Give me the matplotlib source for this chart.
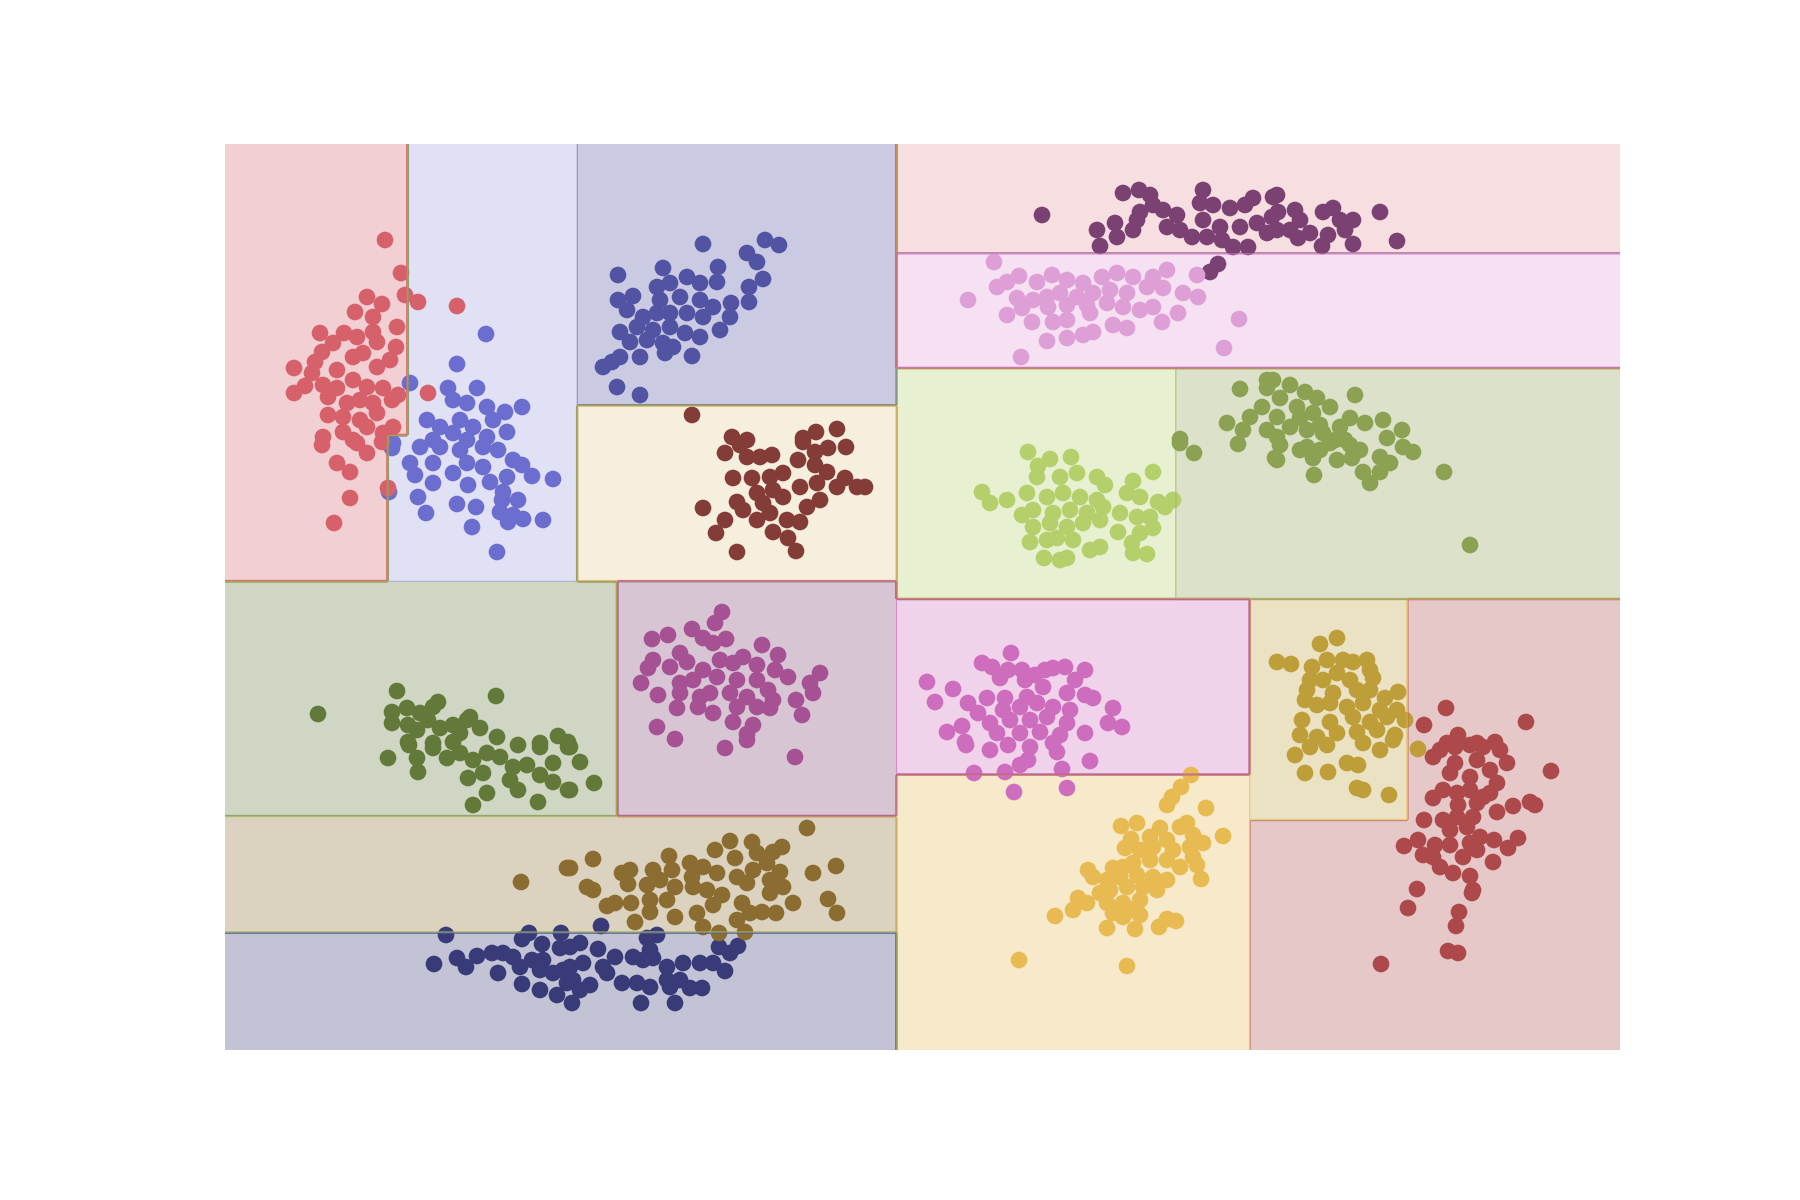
#!/usr/bin/env python3
import numpy as np
import matplotlib
matplotlib.use('Agg')
import matplotlib.pyplot as plt
from matplotlib.colors import ListedColormap

# point positions (pixel-like units, y grows downward)
pts_navy = [(446,935),(434,964),(457,958),(466,967),(477,956),(492,953),(503,953),(513,957),(498,973),(522,939),
            (529,933),(542,944),(561,933),(560,948),(570,947),(520,967),(532,960),(543,960),(540,970),(553,973),
            (563,970),(570,967),(522,984),(540,990),(557,995),(572,1003),(567,983),(601,926),(580,943),(598,949),
            (615,957),(583,963),(603,967),(607,973),(573,980),(590,985),(580,990),(647,938),(657,935),(650,950),
            (633,957),(643,960),(653,958),(667,967),(683,963),(700,963),(713,963),(725,971),(719,947),(738,946),
            (730,953),(622,983),(637,983),(650,987),(667,980),(680,980),(690,988),(702,988),(670,987),(641,1003),
            (675,1003)]
pts_indigo = [(703,244),(765,240),(779,245),(747,253),(757,262),(718,267),(663,268),(618,275),(717,282),(763,279),
              (749,287),(749,302),(731,303),(730,317),(720,330),(692,356),(633,296),(618,300),(657,287),(670,283),
              (687,277),(700,283),(660,300),(680,297),(700,300),(713,307),(627,310),(643,317),(657,313),(670,313),
              (687,313),(703,317),(620,332),(637,327),(653,330),(670,327),(685,333),(700,337),(630,342),(647,340),
              (663,343),(673,347),(620,357),(612,362),(603,367),(640,357),(665,353),(617,387),(640,395)]
pts_blue = [(486,334),(457,364),(410,383),(448,388),(477,388),(522,407),(505,412),(427,420),(440,427),(453,400),
            (467,403),(487,407),(460,420),(473,427),(493,420),(507,432),(453,433),(433,440),(467,440),(487,437),
            (393,443),(392,448),(420,447),(440,447),(460,450),(483,447),(498,450),(410,463),(433,463),(415,475),
            (453,473),(467,463),(483,467),(513,460),(522,465),(507,477),(532,476),(553,479),(433,483),(468,485),
            (490,482),(503,492),(389,492),(418,497),(457,504),(476,507),(502,500),(518,500),(426,513),(500,512),
            (513,515),(523,519),(543,520),(508,522),(472,527),(497,552)]
pts_darkgreen = [(318,714),(397,691),(496,696),(392,712),(392,723),(407,708),(408,725),(420,713),(433,707),(438,702),
                 (428,720),(417,730),(440,728),(453,725),(467,720),(470,717),(480,728),(460,733),(497,737),(518,745),
                 (540,743),(558,736),(568,742),(408,742),(433,743),(453,742),(388,758),(409,745),(417,758),(418,772),
                 (433,748),(447,758),(460,753),(473,760),(487,753),(500,757),(468,778),(483,773),(487,793),(510,780),
                 (518,790),(513,767),(527,765),(540,747),(540,775),(553,763),(553,782),(568,790),(568,747),(538,802),
                 (473,805),(570,747),(580,762),(594,783),(570,790)]
pts_olive = [(1240,389),(1267,380),(1267,388),(1227,423),(1180,439),(1262,407),(1250,417),(1243,430),(1267,430),
             (1273,380),(1290,385),(1305,392),(1317,398),(1330,407),(1355,395),(1350,418),(1365,423),(1383,420),
             (1402,430),(1280,398),(1297,407),(1313,413),(1277,417),(1290,427),(1307,430),(1323,433),(1340,427),
             (1387,438),(1277,437),(1280,445),(1277,460),(1307,447),(1313,458),(1337,460),(1352,458),(1380,457),
             (1390,463),(1413,452),(1403,447),(1314,475),(1363,472),(1370,483),(1380,472),(1444,472),(1470,545),
             (1330,443),(1350,445),(1180,443),(1194,453),(1238,444),(1275,458),(1300,418),(1320,425),(1335,440),
             (1300,450),(1320,450),(1345,440),(1360,450)]
pts_lime = [(1028,452),(1050,459),(1071,457),(1038,466),(1153,472),(982,492),(990,503),(1007,500),(1037,477),
            (1060,477),(1077,473),(1097,477),(1105,485),(1133,481),(1127,493),(1140,497),(1158,502),(1173,500),
            (1165,507),(1027,493),(1047,497),(1063,493),(1080,497),(1097,500),(1103,507),(1022,515),(1033,510),
            (1053,513),(1070,510),(1087,513),(1120,513),(1137,517),(1150,517),(1033,527),(1050,523),(1067,527),
            (1083,523),(1100,520),(1153,528),(1118,532),(1140,533),(1030,542),(1047,540),(1057,538),(1073,540),
            (1090,550),(1100,547),(1132,543),(1133,553),(1147,554),(1044,558),(1060,560),(1067,558)]
pts_brown = [(521,882),(567,868),(570,868),(593,859),(587,887),(593,890),(607,906),(615,903),(622,873),(630,870),
             (628,884),(635,922),(631,903),(647,885),(653,870),(669,856),(672,870),(660,880),(650,900),(650,912),
             (667,900),(675,887),(675,917),(690,863),(692,877),(693,887),(703,867),(715,850),(730,841),(717,873),
             (707,890),(722,895),(713,905),(697,913),(703,927),(719,933),(735,858),(737,877),(752,842),(757,853),
             (767,863),(782,847),(773,852),(753,870),(747,883),(770,880),(780,872),(783,887),(793,903),(770,893),
             (742,903),(750,913),(762,912),(776,913),(737,920),(745,932),(807,828),(813,873),(836,866),(828,899),
             (837,913)]
pts_gold = [(1337,638),(1320,644),(1277,662),(1291,664),(1312,667),(1327,660),(1343,660),(1353,662),(1367,660),
            (1370,670),(1337,673),(1310,680),(1323,680),(1350,680),(1373,678),(1307,690),(1333,693),(1357,690),
            (1370,690),(1385,698),(1398,692),(1305,700),(1317,705),(1330,703),(1347,707),(1363,703),(1380,710),
            (1397,710),(1405,720),(1302,720),(1330,722),(1353,717),(1370,722),(1387,717),(1300,735),(1317,737),
            (1337,733),(1357,732),(1377,730),(1395,735),(1295,755),(1310,747),(1327,745),(1347,763),(1358,765),
            (1380,750),(1363,743),(1305,773),(1328,772),(1357,788),(1363,790),(1389,795),(1418,749),(1393,740)]
pts_yellow = [(1191,775),(1181,787),(1172,797),(1167,805),(1206,808),(1223,836),(1121,826),(1137,823),(1160,828),
              (1187,823),(1180,827),(1131,839),(1125,848),(1150,837),(1167,840),(1193,835),(1203,843),(1140,850),
              (1153,847),(1173,850),(1190,847),(1193,857),(1197,865),(1201,879),(1180,867),(1167,860),(1150,860),
              (1133,863),(1113,868),(1123,867),(1088,870),(1093,877),(1107,880),(1120,877),(1137,875),(1153,877),
              (1167,880),(1157,890),(1143,887),(1127,887),(1110,890),(1100,893),(1078,898),(1087,903),(1073,910),
              (1107,903),(1123,903),(1140,900),(1113,913),(1133,910),(1140,915),(1123,917),(1107,928),(1135,929),
              (1159,927),(1167,919),(1176,921),(1055,916),(1019,960),(1127,966)]
pts_maroon = [(692,415),(732,437),(747,440),(803,438),(816,432),(837,429),(725,453),(740,445),(747,457),(760,457),
              (772,455),(803,442),(815,452),(828,448),(846,447),(733,478),(752,478),(770,477),(783,473),(798,460),
              (815,465),(827,472),(845,478),(857,487),(865,487),(837,487),(800,487),(817,483),(773,490),(757,493),
              (737,502),(703,508),(725,520),(743,510),(757,520),(770,513),(787,520),(800,522),(807,507),(820,500),
              (716,533),(773,532),(788,538),(737,552),(796,551),(783,497),(763,503)]
pts_red = [(1446,708),(1526,722),(1424,725),(1458,735),(1477,743),(1495,742),(1447,743),(1440,750),(1433,757),
           (1455,747),(1470,745),(1483,747),(1500,750),(1507,763),(1551,771),(1455,763),(1477,760),(1490,770),
           (1450,773),(1470,777),(1497,783),(1443,790),(1433,798),(1457,793),(1470,790),(1483,797),(1490,793),
           (1458,805),(1477,803),(1497,812),(1513,806),(1530,802),(1535,805),(1424,820),(1443,820),(1457,817),
           (1473,817),(1450,830),(1467,827),(1480,837),(1494,840),(1518,838),(1508,848),(1404,846),(1418,840),
           (1435,845),(1450,845),(1470,843),(1423,855),(1433,857),(1463,857),(1477,850),(1440,867),(1453,873),
           (1470,876),(1493,862),(1417,889),(1472,893),(1473,890),(1408,908),(1459,912),(1456,926),(1448,951),
           (1458,953),(1381,964)]
pts_salmon = [(385,240),(401,273),(405,295),(418,302),(367,297),(382,304),(355,312),(373,317),(397,327),(320,333),
              (344,333),(357,337),(373,332),(377,342),(396,347),(333,343),(322,352),(315,362),(294,368),(312,373),
              (337,370),(353,357),(363,353),(377,367),(390,360),(305,386),(294,393),(323,385),(337,388),(353,380),
              (367,387),(383,388),(398,395),(392,400),(328,397),(347,403),(360,400),(373,403),(328,415),(343,417),
              (360,420),(377,413),(343,432),(367,427),(393,427),(323,437),(353,440),(383,433),(428,393),(457,306),
              (322,445),(357,443),(367,453),(337,463),(350,472),(350,498),(334,523),(388,488),(382,442)]
pts_plum = [(1042,215),(1123,193),(1139,190),(1150,195),(1153,205),(1163,210),(1140,212),(1137,220),(1115,223),
            (1097,230),(1117,237),(1133,230),(1100,246),(1177,215),(1167,227),(1180,230),(1192,237),(1203,190),
            (1200,203),(1213,205),(1230,208),(1203,220),(1220,227),(1207,237),(1222,240),(1233,247),(1248,247),
            (1253,198),(1245,205),(1240,227),(1257,223),(1267,233),(1273,197),(1272,217),(1218,264),(1210,272),
            (1277,195),(1278,212),(1295,210),(1300,220),(1277,230),(1290,230),(1298,238),(1310,233),(1323,212),
            (1333,208),(1340,220),(1353,220),(1328,235),(1322,246),(1345,230),(1353,244),(1380,212),(1397,241)]
pts_magenta = [(722,612),(715,623),(692,629),(652,639),(668,635),(726,639),(703,638),(713,643),(762,645),(778,655),
               (743,657),(680,653),(653,660),(648,668),(670,667),(687,662),(703,670),(720,660),(733,663),(757,665),
               (775,670),(788,677),(820,673),(810,683),(641,683),(680,683),(693,680),(717,677),(737,680),(757,680),
               (813,693),(658,695),(680,693),(700,697),(710,693),(730,693),(747,697),(768,690),(773,700),(677,708),
               (698,707),(713,713),(737,707),(757,707),(770,708),(796,700),(802,715),(733,722),(753,725),(747,734),
               (657,727),(675,739),(725,748),(747,740),(795,757)]
pts_orchid = [(1011,653),(982,663),(992,667),(1008,670),(1022,670),(1035,675),(1045,670),(1053,668),(1065,667),
              (1085,670),(1075,680),(1000,678),(1025,680),(927,682),(953,689),(935,702),(968,703),(987,698),
              (1005,698),(1027,697),(1043,687),(1067,693),(1085,695),(1093,698),(1113,708),(1108,723),(1122,727),
              (978,713),(1003,710),(1020,707),(1037,703),(1053,707),(1070,710),(990,723),(1010,720),(1030,720),
              (1047,717),(1067,723),(947,732),(962,726),(997,733),(1020,733),(1040,732),(1060,735),(1085,733),
              (965,742),(966,745),(990,750),(1008,745),(1030,747),(1057,752),(1090,761),(1020,765),(1005,772),
              (1028,760),(974,773),(1062,769),(1014,792),(1067,788),(1053,743)]
pts_pink = [(994,262),(968,300),(997,287),(1007,282),(1019,276),(1037,282),(1052,275),(1067,280),(1083,283),
            (1102,277),(1117,273),(1133,277),(1153,277),(1167,270),(1197,275),(1017,298),(1033,300),(1047,297),
            (1060,293),(1077,297),(1093,293),(1110,290),(1127,293),(1147,287),(1163,288),(1183,293),(1198,297),
            (1007,315),(1022,308),(1048,307),(1067,305),(1087,305),(1107,303),(1123,307),(1140,310),(1153,307),
            (1178,313),(1032,322),(1053,322),(1067,320),(1090,313),(1113,325),(1127,328),(1162,322),(1047,341),
            (1067,338),(1083,335),(1093,332),(1021,357),(1239,319),(1224,348)]

# class order follows tab20b sampled at 16 steps
clusters = [pts_navy, pts_indigo, pts_blue, pts_darkgreen, pts_olive, pts_lime, pts_brown, pts_gold,
            pts_yellow, pts_maroon, pts_red, pts_salmon, pts_plum, pts_magenta, pts_orchid, pts_pink]

x_range = (225, 1620)
y_range = (144, 1050)


def best_split(X, y, idx, n_cls, min_leaf):
    counts = np.bincount(y[idx], minlength=n_cls)
    n = len(idx)
    clean, impure = (-1.0, None, None), (np.inf, None, None)
    for f in range(2):
        order = idx[np.argsort(X[idx, f], kind='stable')]
        xs = X[order, f]
        left = np.cumsum(np.eye(n_cls)[y[order]], axis=0)[:-1]
        right = counts - left
        nl = np.arange(1, n)
        nr = n - nl
        step = xs[:-1] < xs[1:]
        # a split that keeps every class whole: take the widest gap
        whole = step & np.all((left == 0) | (right == 0), axis=1)
        if whole.any():
            gap = np.where(whole, xs[1:] - xs[:-1], -1.0)
            i = int(np.argmax(gap))
            if gap[i] > clean[0]:
                clean = (gap[i], f, (xs[i] + xs[i + 1]) / 2)
        # otherwise plain gini
        g = (nl * (1 - ((left / nl[:, None]) ** 2).sum(1)) +
             nr * (1 - ((right / nr[:, None]) ** 2).sum(1))) / n
        ok = step & (nl >= min_leaf) & (nr >= min_leaf)
        if ok.any():
            g[~ok] = np.inf
            i = int(np.argmin(g))
            if g[i] < impure[0]:
                impure = (g[i], f, (xs[i] + xs[i + 1]) / 2)
    if clean[1] is not None:
        return clean[1], clean[2]
    return impure[1], impure[2]


def fit_tree(X, y, idx, n_cls, min_leaf=4, purity=0.95):
    counts = np.bincount(y[idx], minlength=n_cls)
    n = len(idx)
    major = int(counts.argmax())
    if counts[major] == n:
        return ('leaf', major)
    leaf_size = min_leaf
    if counts[major] >= purity * n:
        # a few strays inside the main cluster are absorbed,
        # strays lying beyond it still get their own box
        own = X[idx][y[idx] == major]
        stray = X[idx][y[idx] != major]
        beyond = (stray < own.min(0)) | (stray > own.max(0))
        if not beyond.any(axis=1).all():
            return ('leaf', major)
        leaf_size = 1
    elif n < 2 * min_leaf:
        return ('leaf', major)
    f, t = best_split(X, y, idx, n_cls, leaf_size)
    if f is None:
        return ('leaf', major)
    m = X[idx, f] <= t
    return ('split', f, t, fit_tree(X, y, idx[m], n_cls, min_leaf, purity),
            fit_tree(X, y, idx[~m], n_cls, min_leaf, purity))


def predict(tree, P):
    out = np.zeros(len(P), dtype=int)
    stack = [(tree, np.arange(len(P)))]
    while stack:
        node, ids = stack.pop()
        if node[0] == 'leaf':
            out[ids] = node[1]
            continue
        _, f, t, lo, hi = node
        m = P[ids, f] <= t
        stack.append((lo, ids[m]))
        stack.append((hi, ids[~m]))
    return out


def main():
    X = np.array([p for c in clusters for p in c], dtype=float)
    labels = np.concatenate([np.full(len(c), i) for i, c in enumerate(clusters)])
    n_cls = len(clusters)

    cm = plt.get_cmap('tab20b')
    colors = cm(np.linspace(0, 1, n_cls))
    # contourf picks its band colours from the 20-colour map a little differently
    region_colors = cm(np.round(np.arange(n_cls) * 19 / (n_cls - 1)).astype(int))
    region_cmap = ListedColormap(region_colors)

    tree = fit_tree(X, labels, np.arange(len(X)), n_cls)
    xx, yy = np.meshgrid(np.linspace(*x_range, 700), np.linspace(*y_range, 460))
    Z = predict(tree, np.c_[xx.ravel(), yy.ravel()]).reshape(xx.shape)

    fig = plt.figure(figsize=(12, 8), dpi=150)
    ax = fig.add_axes([0.125, 0.125, 0.775, 0.755])
    levels = np.arange(-0.5, n_cls, 1)
    ax.contourf(xx, yy, Z, levels=levels, colors=region_colors, alpha=0.3)
    ax.contour(xx, yy, Z, levels=levels[1:-1], cmap=region_cmap, vmin=0, vmax=n_cls - 1,
               linewidths=0.6, alpha=0.4)
    ax.scatter(X[:, 0], X[:, 1], c=colors[labels], s=64, linewidths=0)
    ax.set_xlim(*x_range)
    ax.set_ylim(y_range[1], y_range[0])
    ax.axis('off')
    fig.savefig('out.png', dpi=150)
    plt.close(fig)


if __name__ == "__main__":
    main()
